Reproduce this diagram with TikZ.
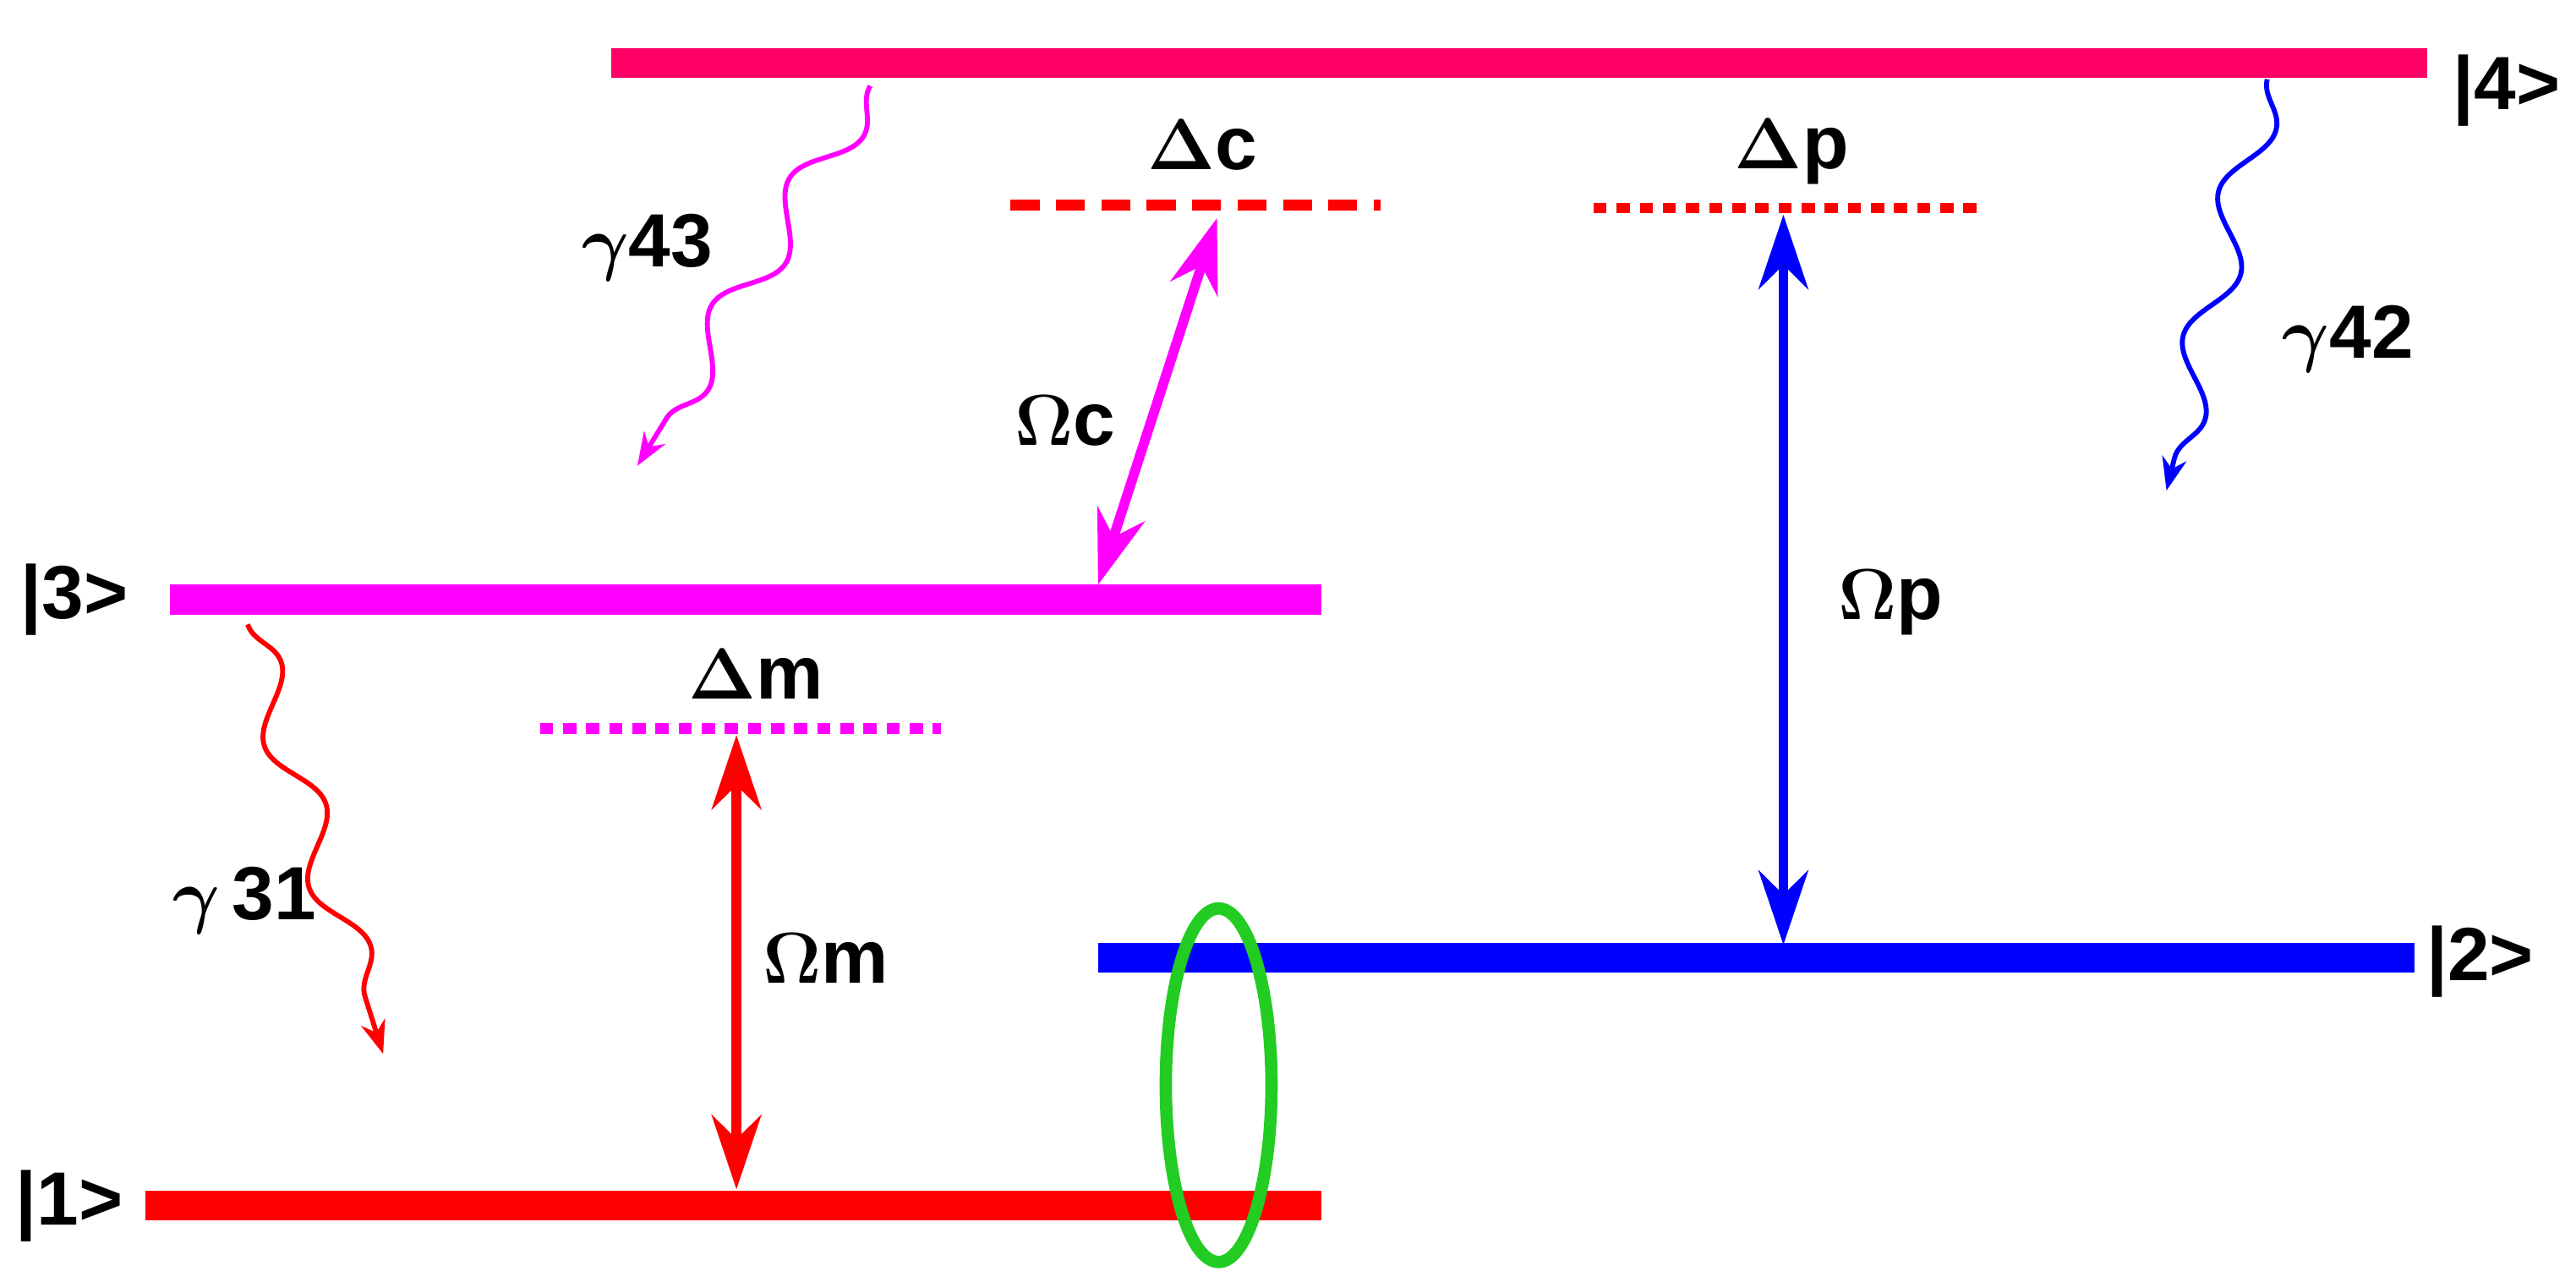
\documentclass[tikz,border=0pt]{standalone}
\usepackage{amsmath}
\usepackage{fontspec}
\setmainfont{Liberation Sans}
\usetikzlibrary{arrows.meta,decorations.pathmorphing}
\definecolor{lv4}{HTML}{FF0066}
\definecolor{mag}{HTML}{FF00FF}
\definecolor{blu}{HTML}{0000FF}
\definecolor{rd}{HTML}{FF0000}
\definecolor{grn}{HTML}{22CC22}
\begin{document}
\begin{tikzpicture}[x=0.02cm,y=-0.02cm,
 level/.style={line width=0.36cm},
 det/.style={line width=0.13cm,dash pattern=on 0.35cm off 0.2cm},
 dot/.style={line width=0.13cm,dash pattern=on 0.16cm off 0.12cm},
 lab/.style={font=\fontsize{26}{30}\selectfont\bfseries,inner sep=0},
 rabi/.style={line width=0.12cm,{Stealth[length=0.9cm,width=0.6cm]}-{Stealth[length=0.9cm,width=0.6cm]}},
 decay/.style={line width=0.06cm,decorate,decoration={snake,amplitude=0.25cm,segment length=1.8cm,post length=0.4cm},-{Stealth[length=0.4cm,width=0.3cm]}}]
\useasboundingbox (0,0) rectangle (1560,773);
% levels
\draw[level,lv4] (370,38) coordinate (l4a) -- (1470,38) coordinate (l4b);
\draw[level,mag] (103,363) coordinate (l3a) -- (800,363) coordinate (l3b);
\draw[level,blu] (665,580) coordinate (l2a) -- (1462,580) coordinate (l2b);
\draw[level,rd] (88,730) coordinate (l1a) -- (800,730) coordinate (l1b);
\node[lab] (k4) at (1518,55) {|4>};
\node[lab] (k3) at (45,363) {|3>};
\node[lab] (k2) at (1502,582) {|2>};
\node[lab] (k1) at (42,730) {|1>};
% detunings
\draw[det,rd] (612,124) -- (836,124);
\draw[dot,rd] (965,126) -- (1197,126);
\draw[dot,mag] (327,441) -- (570,441);
\node[lab] (dc) at (728,88) {$\boldsymbol{\Delta}$c};
\node[lab] (dp) at (1085,92) {$\boldsymbol{\Delta}$p};
\node[lab] (dm) at (458,408) {$\boldsymbol{\Delta}$m};
% Rabi arrows
\coordinate (c1) at (665,354); \coordinate (c2) at (737,132);
\coordinate (p1) at (1080,130); \coordinate (p2) at (1080,572);
\coordinate (m1) at (446,445); \coordinate (m2) at (446,720);
\draw[rabi,mag] (c1) -- (c2);
\draw[rabi,blu] (p1) -- (p2);
\draw[rabi,rd] (m1) -- (m2);
\node[lab] (oc) at (645,255) {$\boldsymbol{\Omega}$c};
\node[lab] (op) at (1145,365) {$\boldsymbol{\Omega}$p};
\node[lab] (om) at (500,580) {$\boldsymbol{\Omega}$m};
% decays
\coordinate (g43a) at (527,52); \coordinate (g43b) at (386,282);
\coordinate (g42a) at (1373,48); \coordinate (g42b) at (1312,297);
\coordinate (g31a) at (150,378); \coordinate (g31b) at (232,638);
\draw[decay,mag] (g43a) -- (g43b);
\draw[decay,blu] (g42a) -- (g42b);
\draw[decay,rd] (g31a) -- (g31b);
\node[lab] (t43) at (392,150) {$\boldsymbol{\gamma}$43};
\node[lab] (t42) at (1422,205) {$\boldsymbol{\gamma}$42};
\node[lab] (t31) at (148,545) {$\boldsymbol{\gamma}$\,31};
% ellipse
\draw[grn,line width=0.15cm] (738,657) ellipse [x radius=32, y radius=107];
\end{tikzpicture}
\end{document}
